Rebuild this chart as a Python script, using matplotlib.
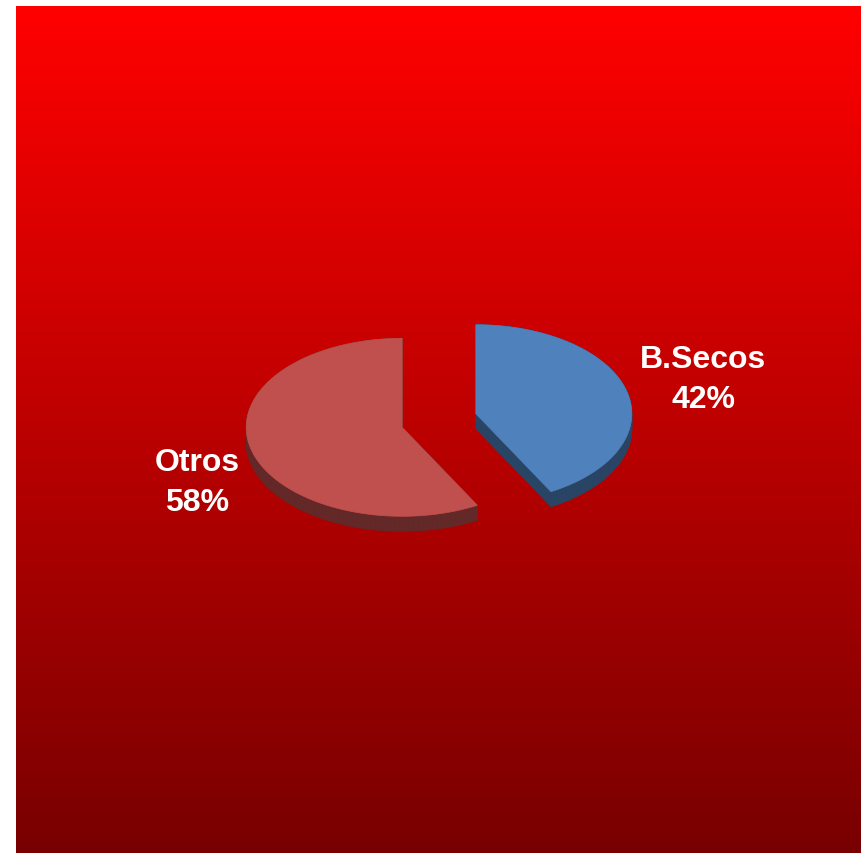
import numpy as np
import matplotlib as mpl
mpl.use('Agg')
import matplotlib.pyplot as plt
from matplotlib.colors import LinearSegmentedColormap
from matplotlib.patches import Polygon

# data
labels = ['B.Secos', 'Otros']
values = [42, 58]
top_colors = ['#4F81BD', '#C0504D']
side_colors = ['#294565', '#622928']

# pie geometry (pixel units of the figure)
cx, cy = 439, 421.5
rx, ry = 156, 89
depth = 15
explode = 38

fig = plt.figure(figsize=(8.61, 8.54), dpi=100)
ax = fig.add_axes([0, 0, 1, 1])
ax.set_xlim(0, 861)
ax.set_ylim(854, 0)
ax.axis('off')

# background gradient
bg = LinearSegmentedColormap.from_list('bg', ['#FF0000', '#780000'])
grad = np.linspace(0, 1, 256).reshape(-1, 1)
ax.imshow(grad, cmap=bg, extent=[16, 861, 854, 7], aspect='auto', zorder=0)


def slice_points(a0, a1, ox, oy):
    t = np.linspace(np.radians(a0), np.radians(a1), 120)
    xs = ox + rx * np.cos(t)
    ys = oy - ry * np.sin(t)
    return np.vstack([[ox, oy], np.column_stack([xs, ys])])


start = 90.0
total = sum(values)
polys = []
for lab, v, tc, sc in zip(labels, values, top_colors, side_colors):
    sweep = 360.0 * v / total
    a0, a1 = start, start - sweep
    mid = np.radians((a0 + a1) / 2)
    ox = cx + explode * np.cos(mid)
    oy = cy - explode * 0.72 * np.sin(mid)
    pts = slice_points(a0, a1, ox, oy)
    polys.append((pts, tc, sc))
    start = a1

# sides
for pts, tc, sc in polys:
    closed = np.vstack([pts, pts[:1]])
    for i in range(len(closed) - 1):
        p, q = closed[i], closed[i + 1]
        quad = [p, q, q + [0, depth], p + [0, depth]]
        ax.add_patch(Polygon(quad, closed=True, facecolor=sc, edgecolor=sc, lw=0.5, zorder=2))
# tops
for pts, tc, sc in polys:
    ax.add_patch(Polygon(pts, closed=True, facecolor=tc, edgecolor=tc, lw=0.5, zorder=3))

font = dict(family=['Liberation Sans', 'DejaVu Sans'], fontsize=23, fontweight='bold',
            color='white', ha='center', va='center', linespacing=1.42, zorder=4)
ax.text(703, 380, 'B.Secos\n42%', **font)
ax.text(197, 483, 'Otros\n58%', **font)

fig.savefig('out.png', dpi=100, facecolor='white')
